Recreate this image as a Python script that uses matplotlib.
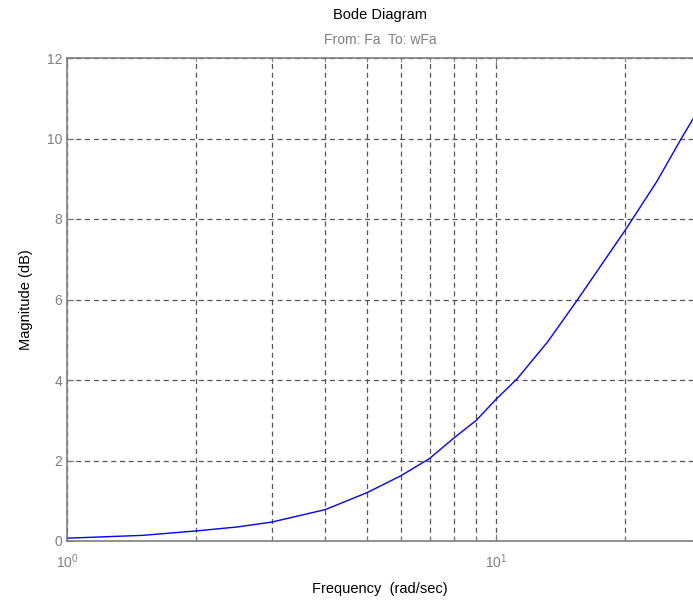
import numpy as np
import matplotlib
matplotlib.use("Agg")
import matplotlib.pyplot as plt
from matplotlib.ticker import LogLocator, FixedLocator, NullFormatter

plt.rcParams['font.family'] = ['Liberation Sans', 'DejaVu Sans']

# magnitude
freq = [1, 1.5, 2, 2.5, 3, 4, 5, 6, 7, 8, 9, 10, 11.2, 13.2, 15.5, 20, 23.7, 27.2, 30]
mag_db = [0.07, 0.14, 0.25, 0.35, 0.47, 0.78, 1.2, 1.62, 2.05, 2.57, 3.0, 3.52,
          4.03, 4.95, 6.0, 7.72, 8.93, 10.05, 10.8]
y_ticks = [0, 2, 4, 6, 8, 10, 12]

axis_gray = '#7f7f7f'

fig = plt.figure(figsize=(6.93, 6.03), dpi=100)
ax = fig.add_axes([67 / 693, 62 / 603, 626 / 693, 483 / 603])

ax.semilogx(freq, mag_db, color='#0000ff', linewidth=1.0)

ax.set_xlim(1, 10 ** (626 / 429))
ax.set_ylim(0, 12)
ax.set_yticks(y_ticks)
ax.xaxis.set_major_locator(LogLocator(base=10, numticks=10))
ax.xaxis.set_minor_locator(LogLocator(base=10, subs=np.arange(2, 10), numticks=10))
ax.xaxis.set_minor_formatter(NullFormatter())

ax.grid(True, which='both', axis='x', linestyle=(0, (4, 3)), color='#555555', linewidth=0.9)
ax.grid(True, which='major', axis='y', linestyle=(0, (4, 3)), color='#555555', linewidth=0.9)

for side in ['left', 'bottom', 'top']:
    ax.spines[side].set_color(axis_gray)
    ax.spines[side].set_linewidth(1.2)
ax.spines['right'].set_visible(False)

ax.tick_params(which='both', direction='in', colors=axis_gray, labelcolor=axis_gray,
               top=True, labelsize=10)
ax.tick_params(which='major', length=5)
ax.tick_params(which='minor', length=3)
ax.tick_params(axis='x', pad=8)

ax.set_xlabel('Frequency  (rad/sec)', fontsize=10.5, labelpad=8)
ax.set_ylabel('Magnitude (dB)', fontsize=10.5, labelpad=10)

fig.text(380 / 693, 1 - 15 / 603, 'Bode Diagram', ha='center', va='center', fontsize=10.5)
fig.text(380 / 693, 1 - 40 / 603, 'From: Fa  To: wFa', ha='center', va='center',
         fontsize=10, color=axis_gray)

fig.savefig('out.png', dpi=100)
